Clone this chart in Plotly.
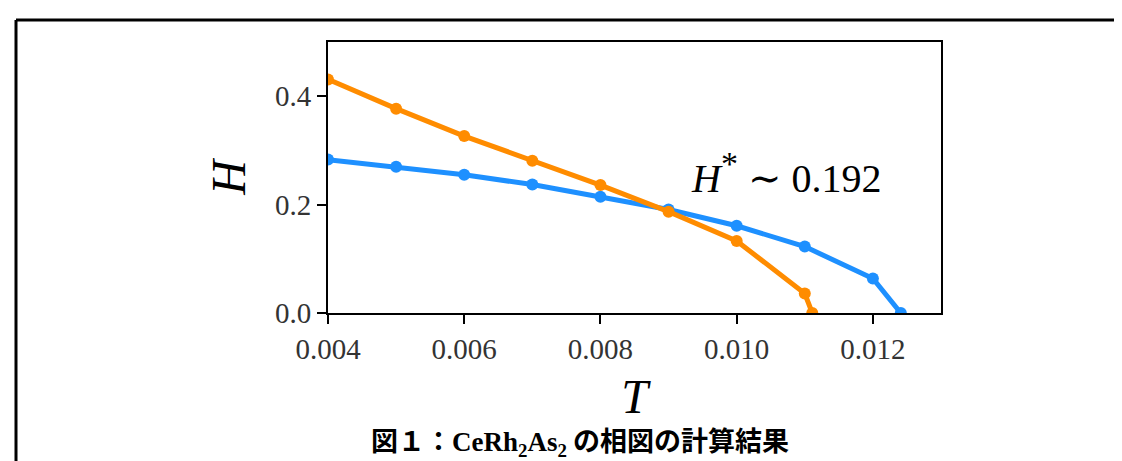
import plotly.graph_objects as go

# Data
T_orange = [0.004, 0.005, 0.006, 0.007, 0.008, 0.009, 0.010, 0.011, 0.01111]
H_orange = [0.431, 0.377, 0.3265, 0.281, 0.236, 0.187, 0.133, 0.036, 0.0]
T_blue = [0.004, 0.005, 0.006, 0.007, 0.008, 0.009, 0.010, 0.011, 0.012, 0.01241]
H_blue = [0.283, 0.270, 0.255, 0.237, 0.2146, 0.191, 0.161, 0.1225, 0.0637, 0.0]

x_ticks = [0.004, 0.006, 0.008, 0.010, 0.012]
y_ticks = [0.0, 0.2, 0.4]
x_range = [0.004, 0.013]
y_range = [0.0, 0.5]

annot_text = "<i>H</i><sup><span style=\"font-size:34px\">*</span></sup> ∼ 0.192"
caption = ("図１：<span style=\"font-family:'Liberation Serif'\">CeRh<sub>2</sub>As<sub>2</sub></span>"
           " の相図の計算結果")

SERIF = "Liberation Serif, DejaVu Serif, serif"
BLUE = "#1E90FF"
ORANGE = "#FF8C00"

fig = go.Figure()
fig.add_trace(go.Scatter(x=T_blue, y=H_blue, mode="lines+markers",
                         line=dict(color=BLUE, width=5),
                         marker=dict(color=BLUE, size=12),
                         showlegend=False))
fig.add_trace(go.Scatter(x=T_orange, y=H_orange, mode="lines+markers",
                         line=dict(color=ORANGE, width=5),
                         marker=dict(color=ORANGE, size=12),
                         showlegend=False))

L, R, T, B = 320, 189, 34, 156
W, H = 1122, 461
pw, ph = W - L - R, H - T - B

def px_x(p):
    return (p - L) / pw

def px_y(p):
    return (H - B - p) / ph

axis_common = dict(showline=True, mirror=True, linecolor="black", linewidth=2,
                   ticks="outside", ticklen=9, tickwidth=2, tickcolor="black",
                   showgrid=False, zeroline=False,
                   tickfont=dict(family=SERIF, size=29, color="#333"))

fig.update_xaxes(range=x_range, tickvals=x_ticks, tickformat=".3f",
                 title=dict(text="<i>T</i>", font=dict(family=SERIF, size=48, color="black"),
                            standoff=16),
                 **axis_common)
fig.update_yaxes(range=y_range, tickvals=y_ticks, tickformat=".1f",
                 title=dict(text="<i>H</i>", font=dict(family=SERIF, size=48, color="black"),
                            standoff=14),
                 **axis_common)

fig.add_annotation(x=0.01073, y=0.258, xref="x", yref="y", text=annot_text,
                   showarrow=False, xanchor="center", yanchor="middle",
                   font=dict(family=SERIF, size=40, color="black"))

fig.add_annotation(x=px_x(572), y=px_y(432), xref="paper", yref="paper", text=caption,
                   showarrow=False, xanchor="center", yanchor="middle",
                   font=dict(family="Noto Sans CJK JP", size=27, color="black", weight="bold"))

# outer frame (top and left edges)
fig.add_shape(type="line", xref="paper", yref="paper",
              x0=px_x(8), x1=px_x(1125), y0=px_y(12), y1=px_y(12),
              line=dict(color="black", width=3))
fig.add_shape(type="line", xref="paper", yref="paper",
              x0=px_x(8), x1=px_x(8), y0=px_y(12), y1=px_y(465),
              line=dict(color="black", width=3))

fig.update_layout(width=W, height=H, margin=dict(l=L, r=R, t=T, b=B, autoexpand=False),
                  paper_bgcolor="white", plot_bgcolor="white")

fig.write_html("out.html")
